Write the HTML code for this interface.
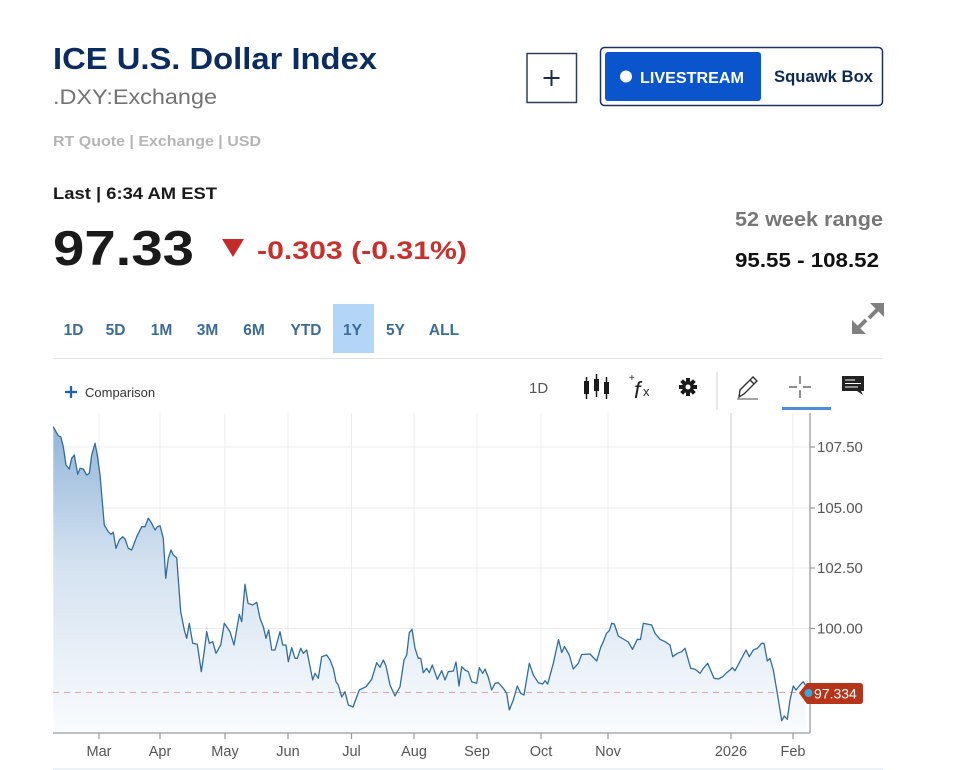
<!DOCTYPE html>
<html>
<head>
<meta charset="utf-8">
<style>
html,body{margin:0;padding:0;background:#fff;}
svg{display:block;}
text{font-family:"Liberation Sans",Arial,sans-serif;}
</style>
</head>
<body>
<svg width="957" height="770" viewBox="0 0 957 770" xmlns="http://www.w3.org/2000/svg">
<defs>
<linearGradient id="fillg" x1="0" y1="420" x2="0" y2="733" gradientUnits="userSpaceOnUse">
<stop offset="0" stop-color="#8fb3d8"/>
<stop offset="0.45" stop-color="#d3e1f0"/>
<stop offset="1" stop-color="#fafcfe"/>
</linearGradient>
</defs>
<rect width="957" height="770" fill="#fff"/>

<!-- Header -->
<text x="53" y="69" font-size="31" font-weight="bold" fill="#0b2c5f" textLength="324" lengthAdjust="spacingAndGlyphs">ICE U.S. Dollar Index</text>
<text x="53" y="104" font-size="21" fill="#737373" textLength="164" lengthAdjust="spacingAndGlyphs">.DXY:Exchange</text>
<text x="53" y="146" font-size="15" font-weight="bold" fill="#b5b5b5" textLength="208" lengthAdjust="spacingAndGlyphs">RT Quote | Exchange | USD</text>
<text x="53" y="199" font-size="17" font-weight="bold" fill="#1a1a1a" textLength="164" lengthAdjust="spacingAndGlyphs">Last | 6:34 AM EST</text>
<text x="53" y="265" font-size="49" font-weight="bold" fill="#1a1a1a" textLength="141" lengthAdjust="spacingAndGlyphs">97.33</text>
<polygon points="222,239 244,239 233,257" fill="#c62b2b"/>
<text x="257" y="259" font-size="25" font-weight="bold" fill="#c9302c" textLength="210" lengthAdjust="spacingAndGlyphs">-0.303 (-0.31%)</text>

<!-- Buttons -->
<rect x="527" y="53.5" width="49.5" height="49" fill="#fff" stroke="#2e3e58" stroke-width="1.5"/>
<path d="M551.5 70 V86 M543.5 78 H559.5" stroke="#1c2c4a" stroke-width="2"/>
<rect x="600.5" y="47.5" width="282" height="58" rx="4" fill="#fff" stroke="#1c3158" stroke-width="1.5"/>
<rect x="605" y="52" width="156" height="49" rx="3" fill="#0a55cc"/>
<circle cx="626" cy="76.5" r="6" fill="#fff"/>
<text x="640" y="83" font-size="16" font-weight="bold" fill="#fff" textLength="104" lengthAdjust="spacingAndGlyphs">LIVESTREAM</text>
<text x="774" y="82" font-size="16.5" font-weight="bold" fill="#0f2a52" textLength="99" lengthAdjust="spacingAndGlyphs">Squawk Box</text>

<text x="883" y="226" font-size="20" font-weight="bold" fill="#777" text-anchor="end" textLength="148" lengthAdjust="spacingAndGlyphs">52 week range</text>
<text x="879" y="267" font-size="20" font-weight="bold" fill="#111" text-anchor="end" textLength="144" lengthAdjust="spacingAndGlyphs">95.55 - 108.52</text>

<!-- Timeframes -->
<rect x="333" y="304" width="41" height="49" fill="#b3d5f8"/>
<g font-size="15.5" font-weight="bold" fill="#3b6c98" text-anchor="middle">
<text x="73.5" y="335">1D</text>
<text x="115.5" y="335">5D</text>
<text x="161.5" y="335">1M</text>
<text x="207.5" y="335">3M</text>
<text x="254" y="335">6M</text>
<text x="306" y="335">YTD</text>
<text x="352.5" y="335">1Y</text>
<text x="395.5" y="335">5Y</text>
<text x="444" y="335">ALL</text>
</g>
<!-- expand icon -->
<g fill="#808080" stroke="#808080">
<polygon points="884,303 870,303 884,317" stroke="none"/>
<line x1="878" y1="309" x2="869" y2="318" stroke-width="4"/>
<polygon points="852,334 852,320 866,334" stroke="none"/>
<line x1="858" y1="328" x2="866" y2="320" stroke-width="4"/>
</g>
<line x1="53" y1="358.5" x2="883" y2="358.5" stroke="#e2e2e2" stroke-width="1"/>

<!-- Toolbar -->
<path d="M71 386 V398 M65 392 H77" stroke="#1a5cc8" stroke-width="2.2"/>
<text x="85" y="397" font-size="13" fill="#333">Comparison</text>
<text x="529" y="393" font-size="15" fill="#555">1D</text>
<g fill="#1a1a1a" stroke="#1a1a1a">
<line x1="586.5" y1="377" x2="586.5" y2="399" stroke-width="1.5"/>
<rect x="584" y="381" width="5" height="13" stroke="none"/>
<line x1="596.5" y1="374" x2="596.5" y2="397" stroke-width="1.5"/>
<rect x="594" y="379" width="5" height="12" stroke="none"/>
<line x1="606.5" y1="377" x2="606.5" y2="399" stroke-width="1.5"/>
<rect x="604" y="382" width="5" height="12" stroke="none"/>
</g>
<text x="629" y="381" font-size="10" fill="#222">+</text>
<text x="634" y="398" font-size="23" font-style="italic" font-family="Liberation Serif" fill="#222">f</text>
<text x="643" y="396" font-size="13" fill="#222">x</text>
<g transform="translate(688,387)" fill="#1a1a1a">
<circle r="6"/>
<rect x="-2" y="-9" width="4" height="18"/>
<rect x="-2" y="-9" width="4" height="18" transform="rotate(45)"/>
<rect x="-2" y="-9" width="4" height="18" transform="rotate(90)"/>
<rect x="-2" y="-9" width="4" height="18" transform="rotate(135)"/>
<circle r="2.5" fill="#fff"/>
</g>
<line x1="717" y1="372" x2="717" y2="410" stroke="#d0d0d0" stroke-width="1"/>
<g fill="none" stroke="#333" stroke-width="1.4">
<path d="M739 397 L740 390 L753 377 L757 381 L744 394 Z"/>
<line x1="750" y1="380" x2="754" y2="384"/>
<line x1="737" y1="399" x2="758" y2="399" stroke="#888"/>
</g>
<g stroke="#444" stroke-width="1.2">
<line x1="789" y1="387" x2="797" y2="387"/>
<line x1="803" y1="387" x2="811" y2="387"/>
<line x1="800" y1="376" x2="800" y2="384"/>
<line x1="800" y1="390" x2="800" y2="398"/>
</g>
<rect x="782" y="407" width="49" height="3" fill="#4a8fd8"/>
<path d="M842 376 H864 V391 H861 L863 395 L857 391 H842 Z" fill="#222"/>
<g stroke="#fff" stroke-width="1">
<line x1="845" y1="380" x2="855" y2="380"/>
<line x1="845" y1="383.5" x2="861" y2="383.5"/>
<line x1="845" y1="387" x2="858" y2="387"/>
</g>

<!-- Chart grid -->
<g stroke="#ececec" stroke-width="1">
<line x1="53" y1="447" x2="810" y2="447"/>
<line x1="53" y1="508" x2="810" y2="508"/>
<line x1="53" y1="568" x2="810" y2="568"/>
<line x1="53" y1="628.5" x2="810" y2="628.5"/>
<line x1="99" y1="413" x2="99" y2="733"/>
<line x1="160" y1="413" x2="160" y2="733"/>
<line x1="225" y1="413" x2="225" y2="733"/>
<line x1="288" y1="413" x2="288" y2="733"/>
<line x1="351.5" y1="413" x2="351.5" y2="733"/>
<line x1="414" y1="413" x2="414" y2="733"/>
<line x1="477" y1="413" x2="477" y2="733"/>
<line x1="541" y1="413" x2="541" y2="733"/>
<line x1="608" y1="413" x2="608" y2="733"/>
<line x1="793" y1="413" x2="793" y2="733"/>
</g>
<line x1="731" y1="413" x2="731" y2="733" stroke="#c8c8c8" stroke-width="1"/>

<!-- Series -->
<path d="M53.3,426.7 L56,431.7 L58.3,435.7 L60.7,436.7 L63.3,446.7 L66,465 L69.3,469 L71.7,458.3 L74.3,455 L77.7,474.3 L80,468.3 L83.3,469 L86.7,475 L89.3,473.3 L91.7,455 L95,443.3 L97.3,455 L100,475 L104.3,525 L108.3,531.7 L111,534.3 L113.3,532.3 L116,548.3 L119.3,540 L122.7,536.7 L125,539 L128.3,548.3 L131.7,550 L136.7,536.7 L141.7,526.7 L145,526.7 L148.3,518.3 L151.7,523.3 L155,530 L157.3,526.7 L160,525.7 L163.3,538.3 L165.7,578.3 L168.3,558.3 L171,550 L173.3,555 L176.7,557.7 L180.7,611.7 L184.3,630 L186.7,638.3 L189.3,623.3 L192.7,643.3 L197.3,644.3 L201.3,671.7 L204,653.3 L206.7,631.7 L209.3,643.3 L212.7,641.7 L216,653.3 L220.7,645 L224.3,623.3 L230,631.7 L234,645 L239.3,614.3 L241.7,621.7 L245,584.3 L248,603.3 L252.7,605 L256.7,602.3 L260,618.3 L263.3,626.7 L266,638.3 L268.7,630 L271.7,650 L275,650 L280,631.7 L282.7,645 L286,645 L288.3,661.7 L291.7,647.7 L295,658.3 L297.3,658.3 L300.7,648.3 L303.3,653.3 L306.7,650 L312.7,680 L315,673.3 L318.3,678.3 L321.7,656.7 L326.7,655 L330,660 L333.3,668.3 L336,681.7 L338.3,685 L341.7,697 L345,691.7 L348.3,705 L353,707 L359.3,690 L366,686.7 L371.7,679.3 L376.7,662.7 L380,667.3 L383.3,660 L386,666 L390,685 L395,696 L400,686.7 L404,660 L406.7,655 L409.3,632.7 L412,629.3 L415,648.3 L418.3,658.3 L420.7,658.3 L423.3,672.7 L426.7,668.3 L429.3,672.7 L432.3,665 L437.3,679.3 L441.7,670.7 L445,680 L448.3,671.7 L453.3,671 L456,662 L459,686 L461.7,666.7 L465,670 L468.3,671.7 L471.7,681.7 L476.7,683.3 L479.3,667.7 L482.7,673.3 L485,669 L488.3,677.3 L491.7,690 L495,683.3 L498.3,682.7 L503.3,688.3 L506.7,693.3 L509.3,710 L513.3,700 L517.3,686 L520.7,693.3 L524,695 L529.3,663.3 L533.3,675 L538.3,682.7 L542.7,684 L545,680.7 L547.7,684 L553.3,663.3 L558.5,639.5 L561.7,652.5 L564.5,646.5 L569.3,655 L573.3,669 L578.3,663.3 L581.7,654.5 L590,654 L596.7,661 L600.7,647.3 L603.3,641.7 L606.5,633.3 L609.3,630.7 L611.7,623.3 L614.3,624 L618.3,636 L625,640 L628.3,642 L632.5,649.3 L637.3,639.3 L640.5,639.5 L643.3,623.3 L651.7,625 L655,633.3 L660,639.3 L665,641.7 L670,645 L672.7,656.7 L677.3,653.3 L681.7,651.7 L685,648.3 L690.7,668.3 L695,669.3 L700,673.3 L703.3,668.3 L707.7,663.3 L714,678.3 L718.3,679 L722.7,676.7 L726,673.3 L730,670 L732.3,667.7 L735,670.7 L739.3,662.7 L746,650 L749.3,656.7 L753.3,650 L757.3,648.3 L761.7,643.3 L764,643.3 L767.3,661 L770,658.3 L773.3,670 L777.3,693.3 L781.7,720.7 L784.3,716 L787.3,719.3 L790,700 L793.3,686 L796,690 L800,685 L803.3,681.7 L806,686 L806,733 L53.3,733 Z" fill="url(#fillg)" stroke="none"/>
<line x1="53" y1="692.5" x2="803" y2="692.5" stroke="#d4a9a9" stroke-width="1" stroke-dasharray="6,5"/>
<path d="M53.3,426.7 L56,431.7 L58.3,435.7 L60.7,436.7 L63.3,446.7 L66,465 L69.3,469 L71.7,458.3 L74.3,455 L77.7,474.3 L80,468.3 L83.3,469 L86.7,475 L89.3,473.3 L91.7,455 L95,443.3 L97.3,455 L100,475 L104.3,525 L108.3,531.7 L111,534.3 L113.3,532.3 L116,548.3 L119.3,540 L122.7,536.7 L125,539 L128.3,548.3 L131.7,550 L136.7,536.7 L141.7,526.7 L145,526.7 L148.3,518.3 L151.7,523.3 L155,530 L157.3,526.7 L160,525.7 L163.3,538.3 L165.7,578.3 L168.3,558.3 L171,550 L173.3,555 L176.7,557.7 L180.7,611.7 L184.3,630 L186.7,638.3 L189.3,623.3 L192.7,643.3 L197.3,644.3 L201.3,671.7 L204,653.3 L206.7,631.7 L209.3,643.3 L212.7,641.7 L216,653.3 L220.7,645 L224.3,623.3 L230,631.7 L234,645 L239.3,614.3 L241.7,621.7 L245,584.3 L248,603.3 L252.7,605 L256.7,602.3 L260,618.3 L263.3,626.7 L266,638.3 L268.7,630 L271.7,650 L275,650 L280,631.7 L282.7,645 L286,645 L288.3,661.7 L291.7,647.7 L295,658.3 L297.3,658.3 L300.7,648.3 L303.3,653.3 L306.7,650 L312.7,680 L315,673.3 L318.3,678.3 L321.7,656.7 L326.7,655 L330,660 L333.3,668.3 L336,681.7 L338.3,685 L341.7,697 L345,691.7 L348.3,705 L353,707 L359.3,690 L366,686.7 L371.7,679.3 L376.7,662.7 L380,667.3 L383.3,660 L386,666 L390,685 L395,696 L400,686.7 L404,660 L406.7,655 L409.3,632.7 L412,629.3 L415,648.3 L418.3,658.3 L420.7,658.3 L423.3,672.7 L426.7,668.3 L429.3,672.7 L432.3,665 L437.3,679.3 L441.7,670.7 L445,680 L448.3,671.7 L453.3,671 L456,662 L459,686 L461.7,666.7 L465,670 L468.3,671.7 L471.7,681.7 L476.7,683.3 L479.3,667.7 L482.7,673.3 L485,669 L488.3,677.3 L491.7,690 L495,683.3 L498.3,682.7 L503.3,688.3 L506.7,693.3 L509.3,710 L513.3,700 L517.3,686 L520.7,693.3 L524,695 L529.3,663.3 L533.3,675 L538.3,682.7 L542.7,684 L545,680.7 L547.7,684 L553.3,663.3 L558.5,639.5 L561.7,652.5 L564.5,646.5 L569.3,655 L573.3,669 L578.3,663.3 L581.7,654.5 L590,654 L596.7,661 L600.7,647.3 L603.3,641.7 L606.5,633.3 L609.3,630.7 L611.7,623.3 L614.3,624 L618.3,636 L625,640 L628.3,642 L632.5,649.3 L637.3,639.3 L640.5,639.5 L643.3,623.3 L651.7,625 L655,633.3 L660,639.3 L665,641.7 L670,645 L672.7,656.7 L677.3,653.3 L681.7,651.7 L685,648.3 L690.7,668.3 L695,669.3 L700,673.3 L703.3,668.3 L707.7,663.3 L714,678.3 L718.3,679 L722.7,676.7 L726,673.3 L730,670 L732.3,667.7 L735,670.7 L739.3,662.7 L746,650 L749.3,656.7 L753.3,650 L757.3,648.3 L761.7,643.3 L764,643.3 L767.3,661 L770,658.3 L773.3,670 L777.3,693.3 L781.7,720.7 L784.3,716 L787.3,719.3 L790,700 L793.3,686 L796,690 L800,685 L803.3,681.7 L806,686" fill="none" stroke="#2f6d9e" stroke-width="1.3" stroke-linejoin="round"/>

<!-- Axes -->
<line x1="53" y1="733" x2="810" y2="733" stroke="#9a9a9a" stroke-width="1.3"/>
<line x1="810" y1="413" x2="810" y2="733" stroke="#9a9a9a" stroke-width="1.3"/>
<g stroke="#9a9a9a" stroke-width="1.2">
<line x1="99" y1="733" x2="99" y2="739"/>
<line x1="160" y1="733" x2="160" y2="739"/>
<line x1="225" y1="733" x2="225" y2="739"/>
<line x1="288" y1="733" x2="288" y2="739"/>
<line x1="351.5" y1="733" x2="351.5" y2="739"/>
<line x1="414" y1="733" x2="414" y2="739"/>
<line x1="477" y1="733" x2="477" y2="739"/>
<line x1="541" y1="733" x2="541" y2="739"/>
<line x1="608" y1="733" x2="608" y2="739"/>
<line x1="731" y1="733" x2="731" y2="739"/>
<line x1="793" y1="733" x2="793" y2="739"/>
<line x1="810" y1="447" x2="815" y2="447"/>
<line x1="810" y1="508" x2="815" y2="508"/>
<line x1="810" y1="568" x2="815" y2="568"/>
<line x1="810" y1="628.5" x2="815" y2="628.5"/>
</g>
<g font-size="14.5" fill="#555" text-anchor="middle">
<text x="99" y="756">Mar</text>
<text x="160" y="756">Apr</text>
<text x="225" y="756">May</text>
<text x="288" y="756">Jun</text>
<text x="351.5" y="756">Jul</text>
<text x="414" y="756">Aug</text>
<text x="477" y="756">Sep</text>
<text x="541" y="756">Oct</text>
<text x="608" y="756">Nov</text>
<text x="731" y="756">2026</text>
<text x="793" y="756">Feb</text>
</g>
<g font-size="15" fill="#555">
<text x="817" y="452">107.50</text>
<text x="817" y="513">105.00</text>
<text x="817" y="573">102.50</text>
<text x="817" y="633.5">100.00</text>
</g>

<!-- Price tag -->
<path d="M799 693 L807 683 H860 Q863 683 863 686 V701 Q863 704 860 704 H807 Z" fill="#b5341a"/>
<circle cx="808.5" cy="693" r="4" fill="#3aa6e0"/>
<text x="814" y="698.5" font-size="14" fill="#fff">97.334</text>

<line x1="53" y1="769" x2="883" y2="769" stroke="#e6edf3" stroke-width="1.5"/>
</svg>
</body>
</html>
